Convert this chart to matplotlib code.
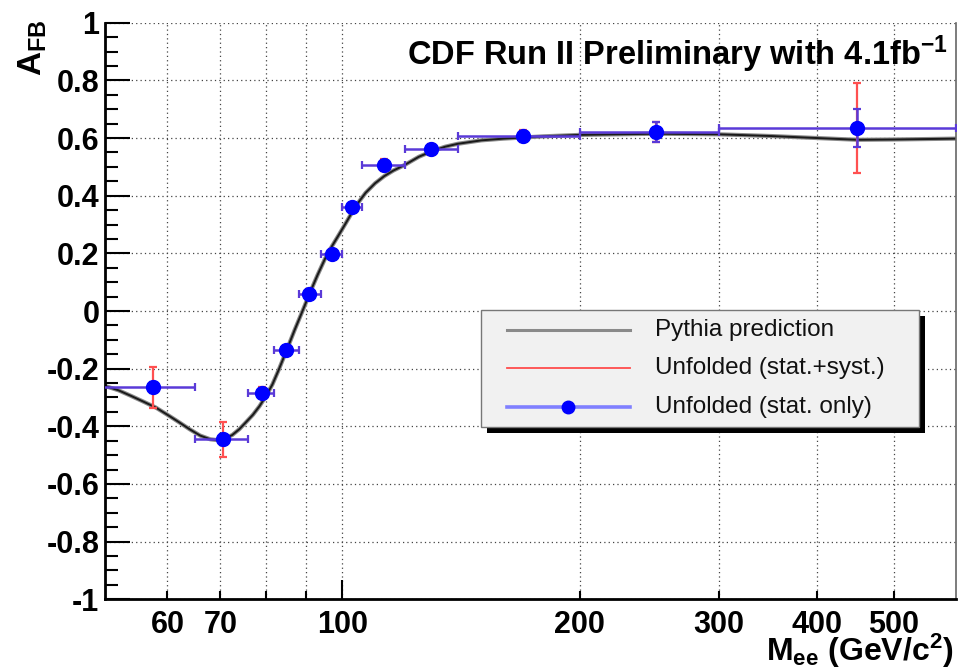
import matplotlib
matplotlib.use('Agg')
import matplotlib.pyplot as plt
from matplotlib.patches import Rectangle

plt.rcParams['font.family'] = ['Liberation Sans', 'DejaVu Sans']
plt.rcParams['mathtext.fontset'] = 'custom'
plt.rcParams['mathtext.rm'] = 'Liberation Sans:bold'
plt.rcParams['mathtext.it'] = 'Liberation Sans:bold'
plt.rcParams['mathtext.bf'] = 'Liberation Sans:bold'
plt.rcParams['axes.unicode_minus'] = False

###############################################################################
# data
###############################################################################

# Pythia prediction
pythia_mass = [50, 52, 54, 56, 58, 60, 62, 64, 66, 68, 69.5, 71, 72.5, 74, 75.5,
               77, 78.5, 80, 81.5, 83, 85, 87, 89, 91, 93, 95, 97, 99, 101, 103,
               105, 107, 110, 113, 116, 120, 125, 130, 135, 140, 150, 160, 180,
               200, 250, 300, 350, 400, 450, 500, 600]
pythia_afb = [-0.26, -0.275, -0.295, -0.315, -0.335, -0.36, -0.385, -0.41, -0.432,
              -0.445, -0.448, -0.442, -0.43, -0.41, -0.385, -0.36, -0.33, -0.295,
              -0.255, -0.205, -0.135, -0.065, 0.0, 0.065, 0.125, 0.18, 0.225,
              0.265, 0.305, 0.345, 0.38, 0.41, 0.443, 0.468, 0.487, 0.507, 0.535,
              0.555, 0.57, 0.58, 0.592, 0.598, 0.606, 0.611, 0.615, 0.613, 0.607,
              0.60, 0.594, 0.595, 0.598]

# unfolded data
data_mass = [57.5, 70.6, 79.1, 84.9, 90.8, 97.0, 102.9, 112.8, 129.6, 169.6, 249.5, 448.7]
data_afb = [-0.265, -0.445, -0.283, -0.135, 0.060, 0.199, 0.360, 0.507, 0.561, 0.607, 0.620, 0.635]
bin_lo = [40, 65, 76, 82, 88, 94, 100, 106, 120, 140, 200, 300]
bin_hi = [65, 76, 82, 88, 94, 100, 106, 120, 140, 200, 300, 600]
err_stat = [0.02, 0.02, 0.015, 0.012, 0.012, 0.012, 0.012, 0.015, 0.015, 0.015, 0.035, 0.067]
err_tot = [0.07, 0.06, 0.02, 0.015, 0.015, 0.015, 0.015, 0.02, 0.02, 0.02, 0.035, 0.156]

x_major = [100]
x_minor = [60, 70, 80, 90, 200, 300, 400, 500]
x_minor_labels = ['60', '70', '', '', '200', '300', '400', '500']
y_ticks = [-1, -0.8, -0.6, -0.4, -0.2, 0, 0.2, 0.4, 0.6, 0.8, 1]
y_labels = ['-1', '-0.8', '-0.6', '-0.4', '-0.2', '0', '0.2', '0.4', '0.6', '0.8', '1']

legend_labels = ['Pythia prediction', 'Unfolded (stat.+syst.)', 'Unfolded (stat. only)']

###############################################################################
# figure
###############################################################################
fig = plt.figure(figsize=(9.69, 6.69), dpi=100)
ax = fig.add_axes([0.1084, 0.1042, 0.8782, 0.8618])
ax.set_xscale('log')

xerr_lo = [m - lo for m, lo in zip(data_mass, bin_lo)]
xerr_hi = [hi - m for m, hi in zip(data_mass, bin_hi)]

# pythia curve
ax.plot(pythia_mass, pythia_afb, color='#8a8a8a', lw=3.0, zorder=2, solid_joinstyle='round')
ax.plot(pythia_mass, pythia_afb, color='#1a1a1a', lw=1.4, zorder=2, solid_joinstyle='round')

# stat+syst
ax.errorbar(data_mass, data_afb, yerr=err_tot, fmt='none', ecolor='#ff5050',
            elinewidth=1.6, capsize=3, capthick=1.6, zorder=3)
# stat only
ax.errorbar(data_mass, data_afb, yerr=err_stat, xerr=[xerr_lo, xerr_hi], fmt='none',
            ecolor='#5a3ad8', elinewidth=1.8, capsize=3, capthick=1.6, zorder=4)
ax.plot(data_mass, data_afb, 'o', color='#0000ff', markersize=10, zorder=5)

ax.set_xlim(50, 600)
ax.set_ylim(-1, 1)

ax.set_xticks(x_major, ['100'])
ax.set_xticks(x_minor, x_minor_labels, minor=True)
ax.set_yticks(y_ticks, y_labels)
ax.set_yticks([v / 20 for v in range(-20, 21)], minor=True)

ax.tick_params(axis='x', which='both', direction='in', pad=8, labelsize=22, width=1.5)
ax.tick_params(axis='x', which='major', length=14)
ax.tick_params(axis='x', which='minor', length=6)
ax.tick_params(axis='y', which='both', direction='in', pad=4, labelsize=22, width=1.5)
ax.tick_params(axis='y', which='major', length=18)
ax.tick_params(axis='y', which='minor', length=9)
for lab in ax.get_xticklabels(which='both') + ax.get_yticklabels():
    lab.set_fontweight('bold')

# dotted grid
for y in y_ticks:
    ax.axhline(y, color='#444444', lw=0.9, ls=(0, (1, 2.5)), zorder=1)
for x in x_minor + x_major:
    ax.axvline(x, color='#444444', lw=0.9, ls=(0, (1, 2.5)), zorder=1)

ax.spines['left'].set_linewidth(2)
ax.spines['bottom'].set_linewidth(2)
ax.spines['right'].set_color('#666666')
ax.spines['right'].set_linewidth(1.2)
ax.spines['top'].set_visible(False)

# labels
fig.text(0.984, 1 - 661 / 669, r'$\mathregular{M_{ee}}$ (GeV/c$^{2}$)', ha='right',
         va='baseline', fontsize=23, fontweight='bold')
fig.text(0.034, 1 - 48 / 669, r'A$_{\mathregular{FB}}$', rotation=90, ha='center',
         va='center', fontsize=24, fontweight='bold')
fig.text(948 / 969, 1 - 65 / 669, r'CDF Run II Preliminary with 4.1fb$^{-1}$', ha='right',
         va='baseline', fontsize=23.5, fontweight='bold')

# legend box
lx0, lx1, ly0, ly1 = 0.4418, 0.9565, 0.2988, 0.5017
ax.add_patch(Rectangle((lx0 + 0.007, ly0 - 0.0104), lx1 - lx0, ly1 - ly0,
                       transform=ax.transAxes, facecolor='black', edgecolor='none', zorder=6))
ax.add_patch(Rectangle((lx0, ly0), lx1 - lx0, ly1 - ly0, transform=ax.transAxes,
                       facecolor='#f1f1f1', edgecolor='#777777', lw=1, zorder=7))
rows = [0.467, 0.401, 0.333]
ax.plot([0.4724, 0.6169], [rows[0]] * 2, transform=ax.transAxes, color='#8a8a8a', lw=2.2, zorder=8)
ax.plot([0.4724, 0.6169], [rows[1]] * 2, transform=ax.transAxes, color='#ff4d4d', lw=1.3, zorder=8)
ax.plot([0.4724, 0.6169], [rows[2]] * 2, transform=ax.transAxes, color='#8080ff', lw=2.6, zorder=8)
ax.plot([0.544], [rows[2]], 'o', transform=ax.transAxes, color='#0000ff', markersize=9, zorder=9)
for r, lab in zip(rows, legend_labels):
    ax.text(0.6463, r, lab, transform=ax.transAxes, ha='left', va='center',
            fontsize=17.5, color='#111111', zorder=9)

fig.savefig('out.png', dpi=100)
